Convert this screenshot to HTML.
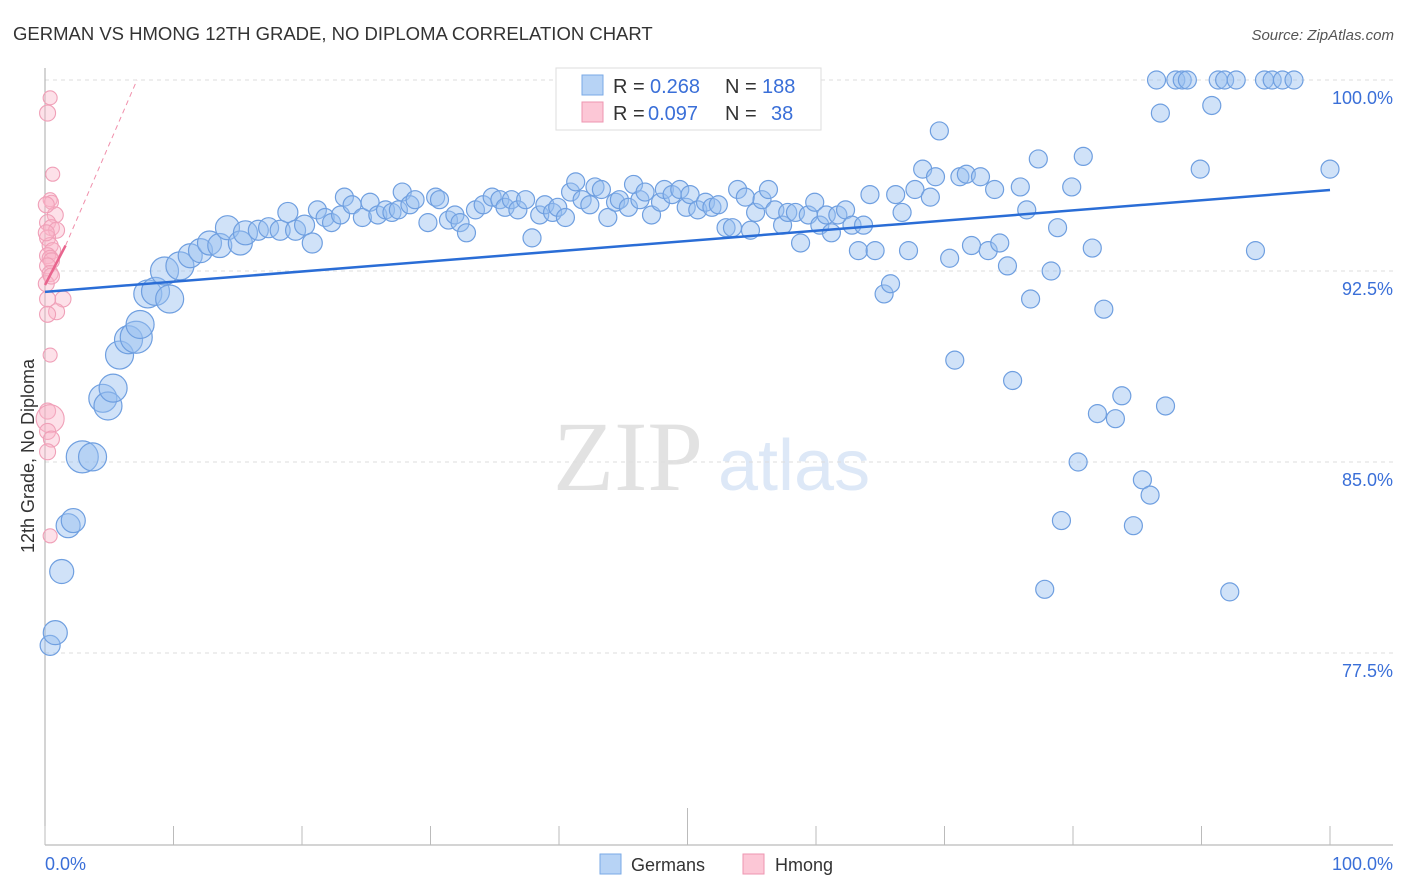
<!DOCTYPE html>
<html><head><meta charset="utf-8">
<style>
body{margin:0;background:#fff;font-family:"Liberation Sans",sans-serif;}
#wrap{position:relative;width:1406px;height:892px;overflow:hidden;}
</style></head>
<body>
<div id="wrap">
<svg id="chart" width="1406" height="892" xmlns="http://www.w3.org/2000/svg" font-family="Liberation Sans, sans-serif">
<text x="13" y="40" font-size="18.5" fill="#333">GERMAN VS HMONG 12TH GRADE, NO DIPLOMA CORRELATION CHART</text>
<text x="1394" y="40" font-size="15" fill="#555" text-anchor="end" font-style="italic">Source: ZipAtlas.com</text>
<text x="34" y="456" font-size="18" fill="#333" text-anchor="middle" transform="rotate(-90 34 456)">12th Grade, No Diploma</text>
<g>
<text x="553" y="490" font-size="100" fill="#e2e2e2" style="font-family:'Liberation Serif',serif">ZIP</text>
<text x="718" y="490" font-size="72" fill="#dde8f7">atlas</text>
</g>
<g id="grid"></g>
<g id="axes"></g>
<g id="pts"></g>
<g id="trend"></g>
<g>
<rect x="556" y="68" width="265" height="62" fill="#fff" stroke="#ddd"/>
<rect x="582" y="75" width="21" height="20" fill="#b7d3f5" stroke="#7aa9e6"/>
<rect x="582" y="102" width="21" height="20" fill="#fcc7d6" stroke="#ee95b0"/>
<text x="613" y="93" font-size="20" fill="#333">R =</text>
<text x="650" y="93" font-size="20" fill="#3a6fd8">0.268</text>
<text x="725" y="93" font-size="20" fill="#333">N =</text>
<text x="762" y="93" font-size="20" fill="#3a6fd8">188</text>
<text x="613" y="120" font-size="20" fill="#333">R =</text>
<text x="648" y="120" font-size="20" fill="#3a6fd8">0.097</text>
<text x="725" y="120" font-size="20" fill="#333">N =</text>
<text x="771" y="120" font-size="20" fill="#3a6fd8">38</text>
</g>
<g>
<rect x="600" y="854" width="21" height="20" fill="#b7d3f5" stroke="#7aa9e6"/>
<text x="631" y="871" font-size="18" fill="#333">Germans</text>
<rect x="743" y="854" width="21" height="20" fill="#fcc7d6" stroke="#ee95b0"/>
<text x="775" y="871" font-size="18" fill="#333">Hmong</text>
</g>
</svg>
</div>
<script>
const yTicks=[100,92.5,85,77.5];
const yTickLabels=["100.0%","92.5%","85.0%","77.5%"];
const xTickLabels=["0.0%","100.0%"];
const germanX=[0.4,0.8,1.3,1.8,2.2,2.9,3.7,4.5,4.9,5.3,5.8,6.5,7.1,7.4,8.0,8.6,9.7,9.3,10.5,11.3,12.1,12.8,13.6,14.2,15.2,15.6,16.6,17.4,18.3,18.9,19.5,20.2,20.8,21.2,21.8,22.3,23.0,23.3,23.9,24.7,25.3,25.9,26.5,27.0,27.5,27.8,28.4,28.8,29.8,30.4,30.7,31.4,31.9,32.3,32.8,33.5,34.1,34.8,35.4,35.8,36.3,36.8,37.4,37.9,38.5,38.9,39.5,39.9,40.5,40.9,41.3,41.8,42.4,42.8,43.3,43.8,44.4,44.7,45.4,45.8,46.3,46.7,47.2,47.9,48.2,48.8,49.4,49.9,50.2,50.8,51.4,51.9,52.4,53.0,53.5,53.9,54.5,54.9,55.3,55.8,56.3,56.8,57.4,57.8,58.4,58.8,59.4,59.9,60.3,60.8,61.2,61.7,62.3,62.8,63.3,63.7,64.2,64.6,65.3,65.8,66.2,66.7,67.2,67.7,68.3,68.9,69.3,69.6,70.4,70.8,71.2,71.7,72.1,72.8,73.4,73.9,74.3,74.9,75.3,75.9,76.4,76.7,77.3,77.8,78.3,78.8,79.1,79.9,80.4,80.8,81.5,81.9,82.4,83.3,83.8,84.7,85.4,86.0,86.5,86.8,87.2,88.0,88.5,88.9,89.9,90.8,91.3,91.8,92.2,92.7,94.2,94.9,95.5,96.3,97.2,100];
const germanY=[77.8,78.3,80.7,82.5,82.7,85.2,85.2,87.5,87.2,87.9,89.2,89.8,89.9,90.4,91.6,91.7,91.4,92.5,92.7,93.1,93.3,93.6,93.5,94.2,93.6,94.0,94.1,94.2,94.1,94.8,94.1,94.3,93.6,94.9,94.6,94.4,94.7,95.4,95.1,94.6,95.2,94.7,94.9,94.8,94.9,95.6,95.1,95.3,94.4,95.4,95.3,94.5,94.7,94.4,94.0,94.9,95.1,95.4,95.3,95.0,95.3,94.9,95.3,93.8,94.7,95.1,94.8,95.0,94.6,95.6,96.0,95.3,95.1,95.8,95.7,94.6,95.2,95.3,95.0,95.9,95.3,95.6,94.7,95.2,95.7,95.5,95.7,95.0,95.5,94.9,95.2,95.0,95.1,94.2,94.2,95.7,95.4,94.1,94.8,95.3,95.7,94.9,94.3,94.8,94.8,93.6,94.7,95.2,94.3,94.7,94.0,94.7,94.9,94.3,93.3,94.3,95.5,93.3,91.6,92.0,95.5,94.8,93.3,95.7,96.5,95.4,96.2,98.0,93.0,89.0,96.2,96.3,93.5,96.2,93.3,95.7,93.6,92.7,88.2,95.8,94.9,91.4,96.9,80.0,92.5,94.2,82.7,95.8,85.0,97.0,93.4,86.9,91.0,86.7,87.6,82.5,84.3,83.7,100,98.7,87.2,100,100,100,96.5,99.0,100,100,79.9,100,93.3,100,100,100,100,96.5];
const germanSize=[10,12,12,12,12,16,14,14,14,14,14,14,16,14,14,14,14,14,14,12,12,12,12,12,12,12,10,10,10,10,10,10,10];
const hmongX=[0.4,0.2,0.6,0.4,0.5,0.8,0.2,0.5,0.9,0.2,0.4,0.6,0.2,0.4,0.5,0.2,0.4,1.4,0.2,0.9,0.2,0.4,0.2,0.4,0.2,0.5,0.2,0.4,0.1,0.5,0.1,0.1];
const hmongY=[99.3,98.7,96.3,95.3,95.2,94.7,94.4,94.2,94.1,93.8,93.5,93.3,93.1,93.0,92.9,92.7,92.4,91.4,91.4,90.9,90.8,89.2,87.0,86.7,86.2,85.9,85.4,82.1,92.0,92.3,94.0,95.1];
const hmongSize=[7,8,7,7,7,8,8,8,8,8,8,8,8,8,8,8,8,8,8,8,8,7,8,14,8,8,8,7,8,8,8,8];
const germanTrend=[[0,91.68],[100,95.68]];
const hmongTrend=[[0,91.95],[1.6,93.5],[7.16,100]];

const X0=45,X1=1330,YTOP=80,PXPER=191/7.5;
const xs=v=>X0+(X1-X0)*v/100;
const ys=v=>YTOP+(100-v)*PXPER;
const NS="http://www.w3.org/2000/svg";
function mk(tag,attrs,parent){const e=document.createElementNS(NS,tag);for(const k in attrs)e.setAttribute(k,attrs[k]);parent.appendChild(e);return e;}
const grid=document.getElementById('grid'),axes=document.getElementById('axes'),pts=document.getElementById('pts'),trend=document.getElementById('trend');
yTicks.forEach((t,i)=>{
 const l=mk('line',{x1:45,x2:1393,y1:ys(t),y2:ys(t),stroke:'#ddd','stroke-dasharray':'4,4'},grid);
 
 
 const tx=mk('text',{x:1393,y:ys(t)+24,'font-size':18,fill:'#3a6fd8','text-anchor':'end'},axes);
 tx.textContent=yTickLabels[i];
 
 
});
let a=mk('line',{x1:45,x2:45,y1:68,y2:845,stroke:'#aaa'},axes);


a=mk('line',{x1:45,x2:1393,y1:845,y2:845,stroke:'#aaa'},axes);


for(let i=0;i<=10;i++){
 const x=xs(i*10);
 const t=mk('line',{x1:x,x2:x,y1:(i==5?808:826),y2:845,stroke:'#bbb'},axes);
 
 
}
[[0,'start',45],[100,'end',1393]].forEach((d,i)=>{
 const tx=mk('text',{x:d[2],y:870,'font-size':18,fill:'#3a6fd8','text-anchor':d[1]},axes);
 tx.textContent=xTickLabels[i];
 
 
});
germanX.forEach((v,i)=>{
 const c=mk('circle',{cx:xs(v),cy:ys(germanY[i]),r:germanSize[i]||9,fill:'rgba(150,190,240,0.45)',stroke:'#6f9fe0','stroke-width':1.2},pts);
 
 
});
hmongX.forEach((v,i)=>{
 const c=mk('circle',{cx:xs(v),cy:ys(hmongY[i]),r:hmongSize[i]||8,fill:'rgba(250,180,200,0.4)',stroke:'#f0a0b8','stroke-width':1.1},pts);
 
 
});
let g=mk('line',{x1:xs(germanTrend[0][0]),y1:ys(germanTrend[0][1]),x2:xs(germanTrend[1][0]),y2:ys(germanTrend[1][1]),stroke:'#2a6dd6','stroke-width':2.5},trend);


g=mk('line',{x1:xs(hmongTrend[0][0]),y1:ys(hmongTrend[0][1]),x2:xs(hmongTrend[1][0]),y2:ys(hmongTrend[1][1]),stroke:'#e8658e','stroke-width':2.5},trend);


g=mk('line',{x1:xs(hmongTrend[1][0]),y1:ys(hmongTrend[1][1]),x2:xs(hmongTrend[2][0]),y2:ys(hmongTrend[2][1]),stroke:'#f08fab','stroke-width':1,'stroke-dasharray':'5,4'},trend);


</script>
</body></html>
